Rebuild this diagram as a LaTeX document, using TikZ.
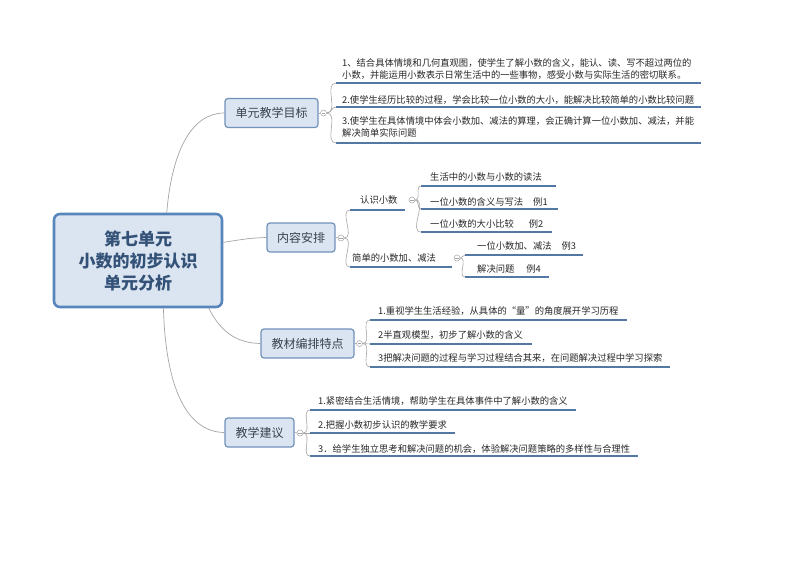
\documentclass[tikz,border=0pt]{standalone}
\usepackage{fontspec}
\setmainfont{Noto Sans CJK SC}
\definecolor{boxfill}{RGB}{219,229,241}
\definecolor{cborder}{RGB}{88,134,188}
\definecolor{bborder}{RGB}{112,146,186}
\definecolor{ctext}{RGB}{52,82,120}
\definecolor{btext}{RGB}{55,65,80}
\definecolor{txt}{RGB}{40,40,40}
\definecolor{lgray}{RGB}{165,165,165}
\definecolor{ublue}{RGB}{84,120,165}
\begin{document}
\begin{tikzpicture}[x=1pt,y=-1pt,
  every node/.style={font=\fontsize{9.3}{12}\selectfont, text=txt, inner sep=0pt},
  central/.style={draw=cborder, line width=2.6pt, fill=boxfill, rounded corners=6pt,
    minimum width=168pt, minimum height=93pt, align=center,
    font=\fontsize{17}{22}\selectfont\bfseries, text=ctext},
  branch/.style={draw=bborder, line width=1.2pt, fill=boxfill, rounded corners=3pt,
    minimum height=29pt, font=\fontsize{12}{14}\selectfont, text=btext},
  item/.style={anchor=base west},
  conn/.style={draw=lgray, line width=0.7pt},
  brk/.style={draw=lgray, line width=0.6pt},
  uline/.style={draw=ublue, line width=1.8pt},
  tog/.style={circle, draw=lgray, fill=white, line width=0.5pt, minimum size=6pt,
    path picture={\draw[lgray,line width=0.5pt]
      ([xshift=-1.8pt]path picture bounding box.center) --
      ([xshift=1.8pt]path picture bounding box.center);}}
]
\useasboundingbox[fill=white] (0,0) rectangle (800,566);

% central and branch nodes
\node[central] (c) at (138,260.5) {第七单元\\小数的初步认识\\单元分析};
\node[branch, minimum width=93pt] (b1) at (271.5,113) {单元教学目标};
\node[branch, minimum width=68pt] (b2) at (301,237.5) {内容安排};
\node[branch, minimum width=93pt] (b3) at (307.5,343.5) {教材编排特点};
\node[branch, minimum width=69pt] (b4) at (259.5,432.5) {教学建议};

\draw[conn] (c.59) .. controls (172,150) and (192,113) .. (b1.west);
\draw[conn] (c.12) .. controls (245,239) and (250,238) .. (b2.west);
\draw[conn] (c.-34) .. controls (222,335) and (240,343) .. (b3.west);
\draw[conn] (c.-62) .. controls (166,395) and (190,432) .. (b4.west);

% toggles
\node[tog] (t1) at (323.5,113) {};
\node[tog] (t2) at (341,238) {};
\node[tog] (t3) at (359.5,343.5) {};
\node[tog] (t4) at (300,433) {};
\node[tog] (t21) at (412,200) {};
\node[tog] (t22) at (457,258) {};
\draw[brk] (b1.east) -- (t1);
\draw[brk] (b2.east) -- (t2);
\draw[brk] (b3.east) -- (t3);
\draw[brk] (b4.east) -- (t4);

% ---------- branch 1 ----------
\coordinate (s11) at (336,83);
\coordinate (s12) at (336,107);
\coordinate (s13) at (336,143);
\foreach \s in {s11,s12,s13} {\draw[brk] (t1.east) to[out=0,in=180] (\s);}
\draw[uline] (s11) -- (701,83);
\draw[uline] (s12) -- (701,107);
\draw[uline] (s13) -- (701,143);
\node[item] (i11a) at (342,66.5) {1、结合具体情境和几何直观图，使学生了解小数的含义，能认、读、写不超过两位的};
\node[item] (i11b) at (342,78.5) {小数，并能运用小数表示日常生活中的一些事物，感受小数与实际生活的密切联系。};
\node[item] (i12) at (342,103) {2.使学生经历比较的过程，学会比较一位小数的大小，能解决比较简单的小数比较问题};
\node[item] (i13a) at (342,124.5) {3.使学生在具体情境中体会小数加、减法的算理，会正确计算一位小数加、减法，并能};
\node[item] (i13b) at (342,136.5) {解决简单实际问题};

% ---------- branch 2 ----------
\coordinate (s21) at (350,210);
\coordinate (s22) at (350,267);
\draw[brk] (t2.east) to[out=0,in=180] (s21);
\draw[brk] (t2.east) to[out=0,in=180] (s22);
\draw[uline] (s21) -- (405,210);
\draw[uline] (s22) -- (452,267);
\node[item] (i21) at (360,203.5) {认识小数};
\node[item] (i22) at (352,261) {简单的小数加、减法};

\coordinate (s211) at (421,186);
\coordinate (s212) at (421,209);
\coordinate (s213) at (421,232);
\foreach \s in {s211,s212,s213} {\draw[brk] (t21.east) to[out=0,in=180] (\s);}
\draw[uline] (s211) -- (556,186);
\draw[uline] (s212) -- (558,209);
\draw[uline] (s213) -- (552,232);
\node[item] (i211) at (430,180) {生活中的小数与小数的读法};
\node[item] (i212) at (430,205) {一位小数的含义与写法\hspace{10pt}例1};
\node[item] (i213) at (430,227) {一位小数的大小比较\hspace{15pt}例2};

\coordinate (s221) at (465,255);
\coordinate (s222) at (465,277);
\draw[brk] (t22.east) to[out=0,in=180] (s221);
\draw[brk] (t22.east) to[out=0,in=180] (s222);
\draw[uline] (s221) -- (583,255);
\draw[uline] (s222) -- (549,277);
\node[item] (i221) at (477,249.5) {一位小数加、减法\hspace{10pt}例3};
\node[item] (i222) at (477,272) {解决问题\hspace{12pt}例4};

% ---------- branch 3 ----------
\coordinate (s31) at (370,320);
\coordinate (s32) at (370,344);
\coordinate (s33) at (370,367);
\foreach \s in {s31,s32,s33} {\draw[brk] (t3.east) to[out=0,in=180] (\s);}
\draw[uline] (s31) -- (627,320);
\draw[uline] (s32) -- (532,344);
\draw[uline] (s33) -- (670,367);
\node[item] (i31) at (378,314.5) {1.重视学生生活经验，从具体的“量”的角度展开学习历程};
\node[item] (i32) at (378,338.5) {2半直观模型，初步了解小数的含义};
\node[item] (i33) at (378,361) {3把解决问题的过程与学习过程结合其来，在问题解决过程中学习探索};

% ---------- branch 4 ----------
\coordinate (s41) at (310,410);
\coordinate (s42) at (310,433);
\coordinate (s43) at (310,456);
\foreach \s in {s41,s42,s43} {\draw[brk] (t4.east) to[out=0,in=180] (\s);}
\draw[uline] (s41) -- (576,410);
\draw[uline] (s42) -- (455,433);
\draw[uline] (s43) -- (638,456);
\node[item] (i41) at (318,404.5) {1.紧密结合生活情境，帮助学生在具体事件中了解小数的含义};
\node[item] (i42) at (318,428) {2.把握小数初步认识的教学要求};
\node[item] (i43) at (318,452) {3．给学生独立思考和解决问题的机会，体验解决问题策略的多样性与合理性};
\end{tikzpicture}
\end{document}
